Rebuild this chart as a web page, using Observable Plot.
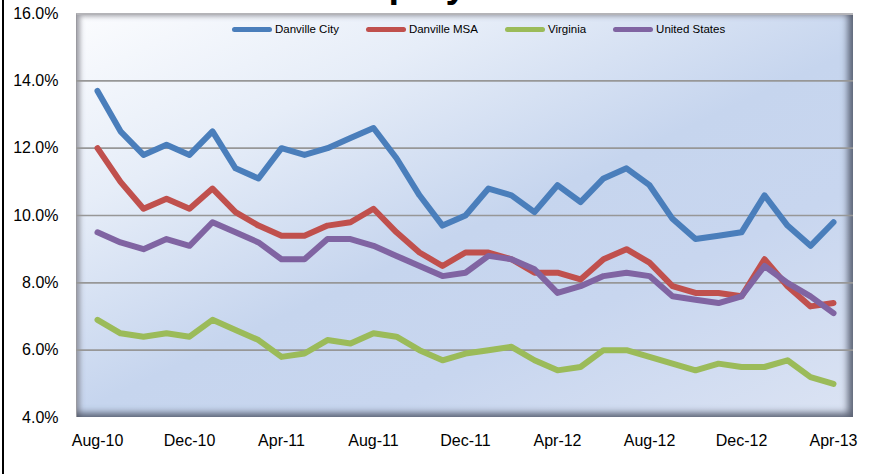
<!DOCTYPE html>
<html>
<head>
<meta charset="utf-8">
<script src="https://cdn.jsdelivr.net/npm/d3@7"></script>
<script src="https://cdn.jsdelivr.net/npm/@observablehq/plot@0.6"></script>
<style>
  html, body { margin: 0; padding: 0; background: #fff; }
  #wrap { position: relative; width: 871px; height: 474px; overflow: hidden; font-family: "Liberation Sans", Arial, sans-serif; }
  #leftline { position: absolute; left: 2px; top: 0; width: 2px; height: 474px; background: #000; }
  #title { position: absolute; left: 283px; top: -35px; font: bold 38px/1 "Liberation Sans", Arial, sans-serif; color: #000; white-space: nowrap; }
  #bg { position: absolute; left: 76px; top: 13px; width: 777px; height: 404px; box-sizing: border-box;
        border-top: 2px solid #b4b4b8; border-left: 1px solid #9a9aa0;
        background: linear-gradient(155deg, #fbfcfe 0%, #e6edf8 25%, #c6d5ee 52%, #c8d6ef 70%, #dbe3f3 100%);
        box-shadow: inset -8px -7px 7px -3px rgba(70,78,95,0.85), inset 5px 3px 5px -2px rgba(120,120,130,0.7); }
  #chart { position: absolute; left: 0; top: 0; }
  #legend { position: absolute; left: 232px; top: 23px; display: flex; align-items: center; font-size: 11.5px; color: #000; }
  #legend .item { display: flex; align-items: center; margin-right: 27px; }
  #legend .sw { width: 40px; height: 5px; border-radius: 3px; margin-right: 3px; }
</style>
</head>
<body>
<div id="wrap">
  <div id="title">Unemployment Rates</div>
  <div id="bg"></div>
  <div id="chart"></div>
  <div id="legend"></div>
  <div id="leftline"></div>
</div>
<script>
const months = ["Aug-10","Sep-10","Oct-10","Nov-10","Dec-10","Jan-11","Feb-11","Mar-11","Apr-11","May-11","Jun-11","Jul-11",
  "Aug-11","Sep-11","Oct-11","Nov-11","Dec-11","Jan-12","Feb-12","Mar-12","Apr-12","May-12","Jun-12","Jul-12",
  "Aug-12","Sep-12","Oct-12","Nov-12","Dec-12","Jan-13","Feb-13","Mar-13","Apr-13"];
const tickLabels = ["Aug-10","Dec-10","Apr-11","Aug-11","Dec-11","Apr-12","Aug-12","Dec-12","Apr-13"];
const yTicks = [4, 6, 8, 10, 12, 14, 16];
const gridValues = [6, 8, 10, 12, 14];

const seriesNames = ["Danville City", "Danville MSA", "Virginia", "United States"];
const seriesColors = ["#4a7ebb", "#c0504d", "#9bbb59", "#8064a2"];

const danvilleCity = [13.7,12.5,11.8,12.1,11.8,12.5,11.4,11.1,12.0,11.8,12.0,12.3,12.6,11.7,10.6,9.7,10.0,10.8,10.6,10.1,10.9,10.4,11.1,11.4,10.9,9.9,9.3,9.4,9.5,10.6,9.7,9.1,9.8];
const danvilleMSA  = [12.0,11.0,10.2,10.5,10.2,10.8,10.1,9.7,9.4,9.4,9.7,9.8,10.2,9.5,8.9,8.5,8.9,8.9,8.7,8.3,8.3,8.1,8.7,9.0,8.6,7.9,7.7,7.7,7.6,8.7,7.9,7.3,7.4];
const virginia     = [6.9,6.5,6.4,6.5,6.4,6.9,6.6,6.3,5.8,5.9,6.3,6.2,6.5,6.4,6.0,5.7,5.9,6.0,6.1,5.7,5.4,5.5,6.0,6.0,5.8,5.6,5.4,5.6,5.5,5.5,5.7,5.2,5.0];
const unitedStates = [9.5,9.2,9.0,9.3,9.1,9.8,9.5,9.2,8.7,8.7,9.3,9.3,9.1,8.8,8.5,8.2,8.3,8.8,8.7,8.4,7.7,7.9,8.2,8.3,8.2,7.6,7.5,7.4,7.6,8.5,8.0,7.6,7.1];

const seriesValues = [danvilleCity, danvilleMSA, virginia, unitedStates];
const data = seriesNames.flatMap((name, s) => months.map((m, i) => ({month: m, value: seriesValues[s][i], series: name})));

const chart = Plot.plot({
  width: 871,
  height: 474,
  marginLeft: 76,
  marginRight: 18,
  marginTop: 13,
  marginBottom: 57,
  style: {background: "transparent", fontFamily: "'Liberation Sans', Arial, sans-serif", fontSize: "16px", color: "#000", overflow: "visible"},
  x: {type: "point", domain: months, padding: 0.5, ticks: tickLabels, tickSize: 0, tickPadding: 17, label: null},
  y: {domain: [4, 16], ticks: yTicks, tickFormat: d => d.toFixed(1) + "%", tickSize: 0, tickPadding: 18, label: null},
  color: {domain: seriesNames, range: seriesColors},
  marks: [
    Plot.ruleY(gridValues, {stroke: "#979797", strokeWidth: 1.6}),
    Plot.line(data, {x: "month", y: "value", z: "series", stroke: "series", strokeWidth: 6, strokeLinejoin: "round", strokeLinecap: "round"})
  ]
});
document.getElementById("chart").appendChild(chart);

const legend = document.getElementById("legend");
seriesNames.forEach((name, i) => {
  const item = document.createElement("div");
  item.className = "item";
  const sw = document.createElement("span");
  sw.className = "sw";
  sw.style.background = seriesColors[i];
  const t = document.createElement("span");
  t.textContent = name;
  item.appendChild(sw);
  item.appendChild(t);
  legend.appendChild(item);
});
</script>
</body>
</html>
